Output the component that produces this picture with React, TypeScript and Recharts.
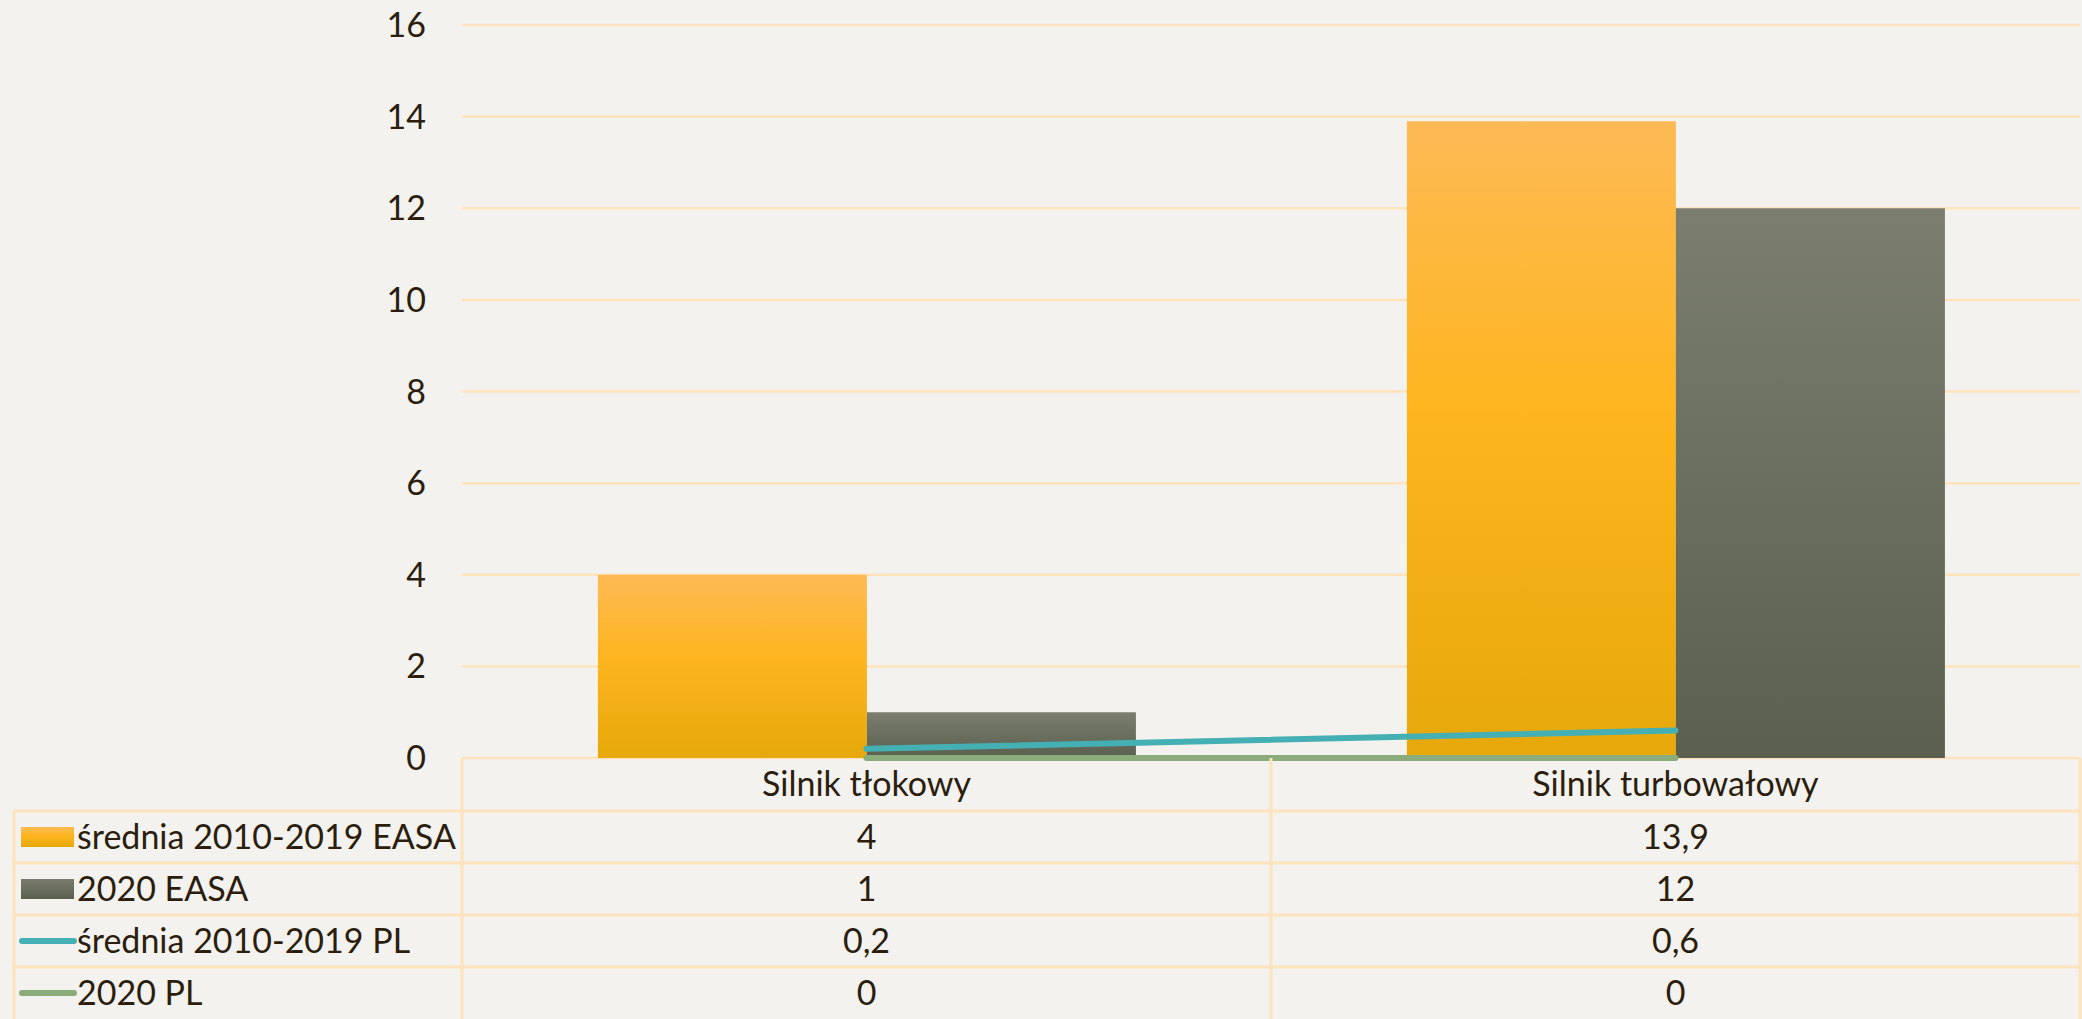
import { ComposedChart, Bar, Line, XAxis, YAxis, CartesianGrid } from 'recharts';

const categories = ['Silnik tłokowy', 'Silnik turbowałowy'];
const easaAvg = [4, 13.9];
const easa2020 = [1, 12];
const plAvg = [0.2, 0.6];
const pl2020 = [0, 0];
const yTicks = [0, 2, 4, 6, 8, 10, 12, 14, 16];

const SERIES = [
  { key: 'easaAvg', name: 'średnia 2010-2019 EASA', kind: 'bar', fill: 'url(#gradOrange)', swatch: '#FDB52A' },
  { key: 'easa2020', name: '2020 EASA', kind: 'bar', fill: 'url(#gradGray)', swatch: '#6A6E5C' },
  { key: 'plAvg', name: 'średnia 2010-2019 PL', kind: 'line', fill: '#45B0B3', swatch: '#45B0B3' },
  { key: 'pl2020', name: '2020 PL', kind: 'line', fill: '#8AAB7A', swatch: '#8AAB7A' },
];

const data = categories.map((name, i) => ({
  name,
  easaAvg: easaAvg[i],
  easa2020: easa2020[i],
  plAvg: plAvg[i],
  pl2020: pl2020[i],
}));

const W = 2082;
const H = 1019;
const BG = '#F3F2EF';
const GRID = '#FEE3BC';
const TEXT = '#2B1E0E';
const FONT = 'Lato, sans-serif';
const FS = 34;
const HEADER_H = 53;
const ROW_H = 52;
const LEGEND_LEFT = 14;
const BORDER = 3;

const fmt = (v: number) => String(v).replace('.', ',');

function TableTick(props: any) {
  const { x, y, payload, index } = props;
  const half = payload?.offset || 404.5;
  const left = x - half;
  const right = x + half;
  const row = data[index] as any;
  const bottom = H;
  const rowTops = SERIES.map((_, k) => y + HEADER_H + k * ROW_H);

  return (
    <g>
      <text x={x} y={y + HEADER_H / 2} dy="0.35em" textAnchor="middle" fill={TEXT} fontSize={FS} fontFamily={FONT}>
        {payload.value}
      </text>
      {SERIES.map((s, k) => (
        <g key={s.key}>
          <line x1={index === 0 ? LEGEND_LEFT : left} x2={right} y1={rowTops[k]} y2={rowTops[k]} stroke={GRID} strokeWidth={BORDER} />
          <text x={x} y={rowTops[k] + ROW_H / 2} dy="0.35em" textAnchor="middle" fill={TEXT} fontSize={FS} fontFamily={FONT}>
            {fmt(row[s.key])}
          </text>
        </g>
      ))}
      <line x1={right} x2={right} y1={y} y2={bottom} stroke={GRID} strokeWidth={BORDER} />
      {index === 0 && (
        <g>
          <line x1={left} x2={left} y1={y} y2={bottom} stroke={GRID} strokeWidth={BORDER} />
          <line x1={LEGEND_LEFT} x2={LEGEND_LEFT} y1={rowTops[0]} y2={bottom} stroke={GRID} strokeWidth={BORDER} />
          {SERIES.map((s, k) => {
            const cy = rowTops[k] + ROW_H / 2;
            return (
              <g key={s.key}>
                {s.kind === 'bar' ? (
                  <rect x={21} y={cy - 10} width={53} height={20} fill={s.fill} />
                ) : (
                  <line x1={22} x2={74} y1={cy} y2={cy} stroke={s.swatch} strokeWidth={6} strokeLinecap="round" />
                )}
                <text x={77} y={cy} dy="0.35em" fill={TEXT} fontSize={FS} fontFamily={FONT}>
                  {s.name}
                </text>
              </g>
            );
          })}
        </g>
      )}
    </g>
  );
}

export default function App() {
  return (
    <div style={{ position: 'absolute', left: 0, top: 0, width: W, height: H, background: BG, overflow: 'hidden' }}>
      <ComposedChart
        width={W}
        height={H}
        data={data}
        margin={{ top: 25, right: 2, bottom: 0, left: 0 }}
        barCategoryGap="16.8%"
        barGap={0}
      >
        <defs>
          <linearGradient id="gradOrange" x1="0" y1="0" x2="0" y2="1">
            <stop offset="0%" stopColor="#FDBA55" />
            <stop offset="45%" stopColor="#FEB51F" />
            <stop offset="100%" stopColor="#E6A80A" />
          </linearGradient>
          <linearGradient id="gradGray" x1="0" y1="0" x2="0" y2="1">
            <stop offset="0%" stopColor="#7B7E6F" />
            <stop offset="100%" stopColor="#5A5F4E" />
          </linearGradient>
        </defs>
        <CartesianGrid vertical={false} stroke={GRID} strokeWidth={2.5} />
        <XAxis
          dataKey="name"
          height={261}
          axisLine={false}
          tickLine={false}
          tickSize={0}
          tickMargin={0}
          interval={0}
          tick={<TableTick />}
        />
        <YAxis
          width={462}
          domain={[0, 16]}
          ticks={yTicks}
          axisLine={false}
          tickLine={false}
          tickSize={0}
          tickMargin={36}
          tick={{ fill: TEXT, fontSize: FS, fontFamily: FONT }}
        />
        {SERIES.filter((s) => s.kind === 'bar').map((s) => (
          <Bar key={s.key} dataKey={s.key} name={s.name} fill={s.fill} isAnimationActive={false} />
        ))}
        {SERIES.filter((s) => s.kind === 'line').map((s) => (
          <Line
            key={s.key}
            dataKey={s.key}
            name={s.name}
            type="linear"
            stroke={s.fill}
            strokeWidth={6}
            strokeLinecap="round"
            dot={false}
            activeDot={false}
            isAnimationActive={false}
          />
        ))}
      </ComposedChart>
    </div>
  );
}
